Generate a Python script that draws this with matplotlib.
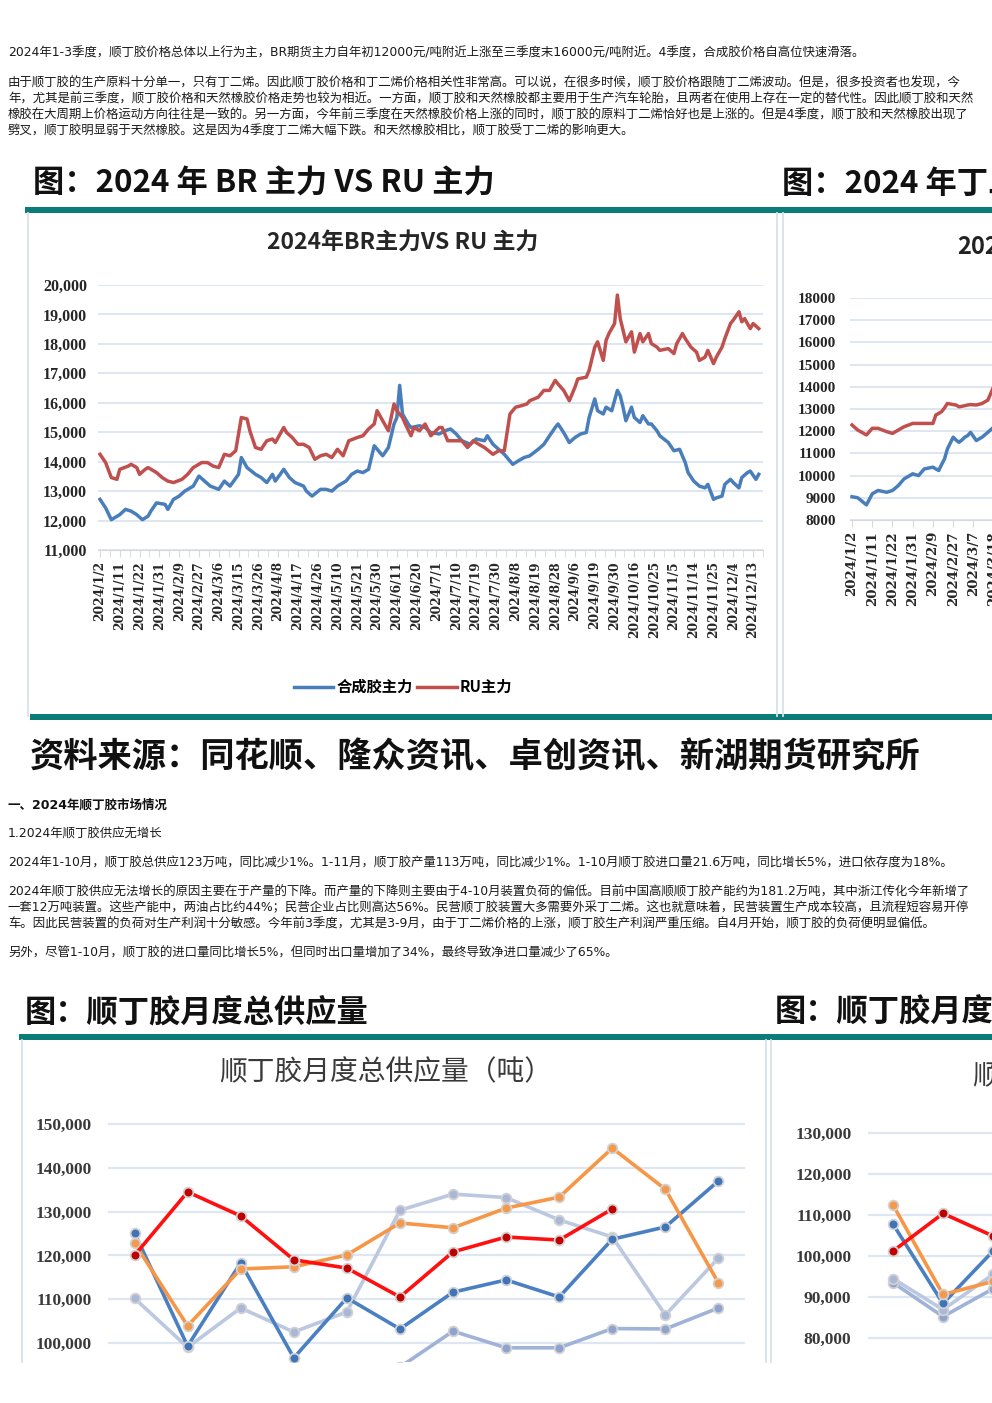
import matplotlib
matplotlib.use('Agg')
import matplotlib.pyplot as plt
from matplotlib.patches import Rectangle
from matplotlib.lines import Line2D

plt.rcParams['font.family'] = ['Noto Sans CJK SC', 'DejaVu Sans']

# ------------------------------------------------------------
# text of the page
intro_line = ("2024年1-3季度，顺丁胶价格总体以上行为主，BR期货主力自年初12000元/吨附近上涨至三季度末"
              "16000元/吨附近。4季度，合成胶价格自高位快速滑落。")
intro_para = [
    "由于顺丁胶的生产原料十分单一，只有丁二烯。因此顺丁胶价格和丁二烯价格相关性非常高。可以说，在很多时候，顺丁胶价格跟随丁二烯波动。但是，很多投资者也发现，今",
    "年，尤其是前三季度，顺丁胶价格和天然橡胶价格走势也较为相近。一方面，顺丁胶和天然橡胶都主要用于生产汽车轮胎，且两者在使用上存在一定的替代性。因此顺丁胶和天然",
    "橡胶在大周期上价格运动方向往往是一致的。另一方面，今年前三季度在天然橡胶价格上涨的同时，顺丁胶的原料丁二烯恰好也是上涨的。但是4季度，顺丁胶和天然橡胶出现了",
    "劈叉，顺丁胶明显弱于天然橡胶。这是因为4季度丁二烯大幅下跌。和天然橡胶相比，顺丁胶受丁二烯的影响更大。",
]
section_title = "一、2024年顺丁胶市场情况"
sub_title = "1.2024年顺丁胶供应无增长"
supply_line = ("2024年1-10月，顺丁胶总供应123万吨，同比减少1%。1-11月，顺丁胶产量113万吨，同比减少1%。"
               "1-10月顺丁胶进口量21.6万吨，同比增长5%，进口依存度为18%。")
supply_para = [
    "2024年顺丁胶供应无法增长的原因主要在于产量的下降。而产量的下降则主要由于4-10月装置负荷的偏低。目前中国高顺顺丁胶产能约为181.2万吨，其中浙江传化今年新增了",
    "一套12万吨装置。这些产能中，两油占比约44%；民营企业占比则高达56%。民营顺丁胶装置大多需要外采丁二烯。这也就意味着，民营装置生产成本较高，且流程短容易开停",
    "车。因此民营装置的负荷对生产利润十分敏感。今年前3季度，尤其是3-9月，由于丁二烯价格的上涨，顺丁胶生产利润严重压缩。自4月开始，顺丁胶的负荷便明显偏低。",
]
trade_line = "另外，尽管1-10月，顺丁胶的进口量同比增长5%，但同时出口量增加了34%，最终导致净进口量减少了65%。"
source_line = "资料来源：同花顺、隆众资讯、卓创资讯、新湖期货研究所"

# ------------------------------------------------------------
# chart 1: BR vs RU main contract (trading-day index, yuan/t)
date_labels = ['2024/1/2', '2024/1/11', '2024/1/22', '2024/1/31', '2024/2/9', '2024/2/27',
               '2024/3/6', '2024/3/15', '2024/3/26', '2024/4/8', '2024/4/17', '2024/4/26',
               '2024/5/10', '2024/5/21', '2024/5/30', '2024/6/11', '2024/6/20', '2024/7/1',
               '2024/7/10', '2024/7/19', '2024/7/30', '2024/8/8', '2024/8/19', '2024/8/28',
               '2024/9/6', '2024/9/19', '2024/9/30', '2024/10/16', '2024/10/25', '2024/11/5',
               '2024/11/14', '2024/11/25', '2024/12/4', '2024/12/13']
br_day = [0, 2, 4, 7, 9, 11, 13, 15, 17, 18, 20, 23, 24, 26, 28, 30, 33, 35, 37, 39,
          42, 44, 46, 49, 50, 52, 55, 57, 59, 61, 62, 65, 67, 69, 72, 73, 75, 78, 80, 82,
          84, 87, 89, 91, 93, 95, 97, 100, 102, 104, 105, 106, 107, 109, 110, 113, 115, 117, 120, 122,
          124, 126, 128, 131, 133, 136, 137, 139, 141, 143, 146, 148, 150, 152, 155, 157, 159, 161, 162, 164,
          166, 168, 170, 172, 173, 175, 176, 178, 179, 181, 183, 184, 185, 186, 188, 189, 191, 192, 194, 195,
          197, 198, 201, 203, 205, 207, 208, 210, 212, 214, 215, 217, 218, 220, 221, 223, 224, 226, 227, 229,
          230, 232, 233]
br_price = [12720, 12430, 12030, 12200, 12380, 12320, 12200, 12030, 12150, 12320,
            12600, 12550, 12380, 12720, 12830, 13000, 13170, 13510, 13340, 13170,
            13060, 13340, 13170, 13570, 14140, 13800, 13570, 13460, 13290, 13570,
            13340, 13740, 13460, 13290, 13170, 13000, 12830, 13060, 13060, 13000,
            13170, 13340, 13570, 13680, 13630, 13740, 14540, 14200, 14480, 15280,
            15500, 16590, 15620, 15280, 15160, 15220, 15160, 14990, 14940, 15050,
            15110, 14940, 14710, 14590, 14770, 14710, 14880, 14590, 14420, 14250,
            13910, 14030, 14140, 14200, 14420, 14590, 14880, 15160, 15280, 14990,
            14650, 14820, 14940, 14990, 15500, 16130, 15730, 15620, 15850, 15730,
            16420, 16240, 15850, 15390, 15850, 15500, 15330, 15560, 15280, 15280,
            15050, 14880, 14650, 14370, 14420, 13970, 13630, 13340, 13170, 13110,
            13230, 12720, 12770, 12830, 13230, 13400, 13290, 13110, 13460, 13630,
            13680, 13400, 13570]
ru_day = [0, 2, 4, 6, 7, 10, 11, 13, 14, 16, 17, 20, 22, 24, 26, 29, 31, 33, 36, 38,
          40, 42, 44, 46, 48, 50, 52, 53, 55, 57, 59, 61, 62, 65, 66, 68, 70, 72, 74, 76,
          78, 80, 82, 84, 86, 88, 91, 93, 95, 97, 98, 100, 102, 104, 105, 107, 108, 110, 111, 113,
          115, 117, 120, 121, 123, 126, 128, 130, 132, 134, 136, 139, 141, 143, 145, 147, 149, 151, 152, 155,
          157, 159, 161, 162, 164, 166, 168, 169, 172, 173, 175, 176, 178, 179, 180, 182, 183, 184, 185, 186,
          188, 189, 191, 192, 194, 195, 197, 198, 201, 203, 204, 206, 207, 209, 211, 212, 214, 215, 217, 218,
          220, 221, 223, 224, 226, 227, 228, 230, 231, 233]
ru_price = [14250, 13970, 13460, 13400, 13740, 13850, 13910, 13800, 13570, 13740,
            13800, 13630, 13460, 13340, 13290, 13400, 13570, 13800, 13970, 13970,
            13850, 13800, 14250, 14200, 14370, 15500, 15450, 15050, 14480, 14420,
            14710, 14770, 14650, 15160, 14990, 14820, 14590, 14590, 14480, 14080,
            14200, 14250, 14140, 14420, 14200, 14710, 14820, 14880, 15110, 15280,
            15730, 15390, 15050, 15960, 15730, 15500, 15280, 14880, 15160, 15050,
            15280, 14880, 15160, 15160, 14710, 14710, 14710, 14480, 14710, 14590,
            14480, 14250, 14370, 14370, 15620, 15850, 15900, 15960, 16070, 16190,
            16420, 16420, 16760, 16640, 16420, 16070, 16530, 16810, 16870, 17100,
            17890, 18070, 17440, 18120, 18350, 18690, 19660, 18860, 18460, 18070,
            18410, 17720, 18350, 18070, 18350, 18010, 17890, 17780, 17840, 17670,
            18010, 18350, 18180, 17890, 17720, 17440, 17550, 17780, 17330, 17550,
            17890, 18180, 18690, 18810, 19090, 18750, 18860, 18520, 18690, 18520]

# chart 1b (cut off at the right edge)
side_labels = ['2024/1/2', '2024/1/11', '2024/1/22', '2024/1/31', '2024/2/9',
               '2024/2/27', '2024/3/7', '2024/3/18']
side_day = [0, 2, 5, 7, 9, 12, 14, 16, 18, 21, 23, 25, 28, 29, 30, 31, 32, 33, 35,
            36, 37, 38, 39, 40, 41, 43, 45, 47, 49]
side_red = [12280, 12050, 11830, 12130, 12130, 11980, 11900, 12050, 12200, 12350,
            12350, 12350, 12350, 12730, 12800, 12880, 13050, 13250, 13200, 13180,
            13100, 13120, 13150, 13180, 13200, 13180, 13250, 13400, 14000]
side_blue = [9050, 9000, 8680, 9180, 9330, 9250, 9330, 9550, 9850, 10080,
             10000, 10300, 10380, 10300, 10230, 10500, 10750, 11200, 11730, 11600,
             11500, 11600, 11730, 11800, 11950, 11580, 11730, 11950, 12180]

# ------------------------------------------------------------
# chart 2: monthly total supply of BR (t), one line per year
months = list(range(12))
supply_steel = [92000, 88000, 91000, 89000, 90000, 94500, 102700, 98900, 98900, 103300, 103200, 108000]
supply_lav = [110200, 99000, 108000, 102500, 107100, 130300, 134000, 133200, 128100, 124200, 106400, 119400]
supply_blue = [125100, 99300, 118300, 96600, 110300, 103200, 111600, 114400, 110500, 123700, 126500, 137000]
supply_orange = [122800, 103900, 116900, 117400, 120100, 127400, 126300, 130800, 133300, 144500, 135100, 113700]
supply_2024 = [120000, 134500, 129000, 119000, 117100, 110500, 120800, 124200, 123500, 130600]

# chart 2b (cut off at the right edge)
side2_steel = [93500, 85200, 92000]
side2_lav = [94500, 86900, 95500]
side2_blue = [107800, 88400, 101200]
side2_orange = [112500, 90600, 93800]
side2_2024 = [101200, 110400, 104900]

# ------------------------------------------------------------
W, H = 992, 1403
fig = plt.figure(figsize=(W / 100, H / 100), dpi=100)


def fx(x):
    return x / W


def fy(y):
    return 1 - y / H


def add_ax(x0, y0, x1, y1):
    return fig.add_axes([fx(x0), fy(y1), (x1 - x0) / W, (y1 - y0) / H])


def text(x, y, s, **kw):
    kw.setdefault('va', 'center')
    kw.setdefault('ha', 'left')
    fig.text(fx(x), fy(y), s, **kw)


def hbar(x0, x1, y0, y1, color='#0b7c78'):
    fig.patches.append(Rectangle((fx(x0), fy(y1)), (x1 - x0) / W, (y1 - y0) / H,
                                 transform=fig.transFigure, color=color, lw=0))


def vline(x, y0, y1, color='#d8e1ec', lw=1.3):
    fig.lines.append(Line2D([fx(x), fx(x)], [fy(y0), fy(y1)], transform=fig.transFigure,
                            color=color, lw=lw))


# latin glyphs from DejaVu (wider digits), CJK from Noto
body = dict(fontsize=8.95, color='#1a1a1a', family=['DejaVu Sans', 'Noto Sans CJK SC'])
text(8, 53, intro_line, **body)
for i, line in enumerate(intro_para):
    text(8, 83 + 16 * i, line, **body)

# headers for the first pair of charts
head = dict(fontsize=22.5, fontweight='bold', color='#111111')
text(33, 184, "图：2024 年 BR 主力 VS RU 主力", **head)
text(782, 184, "图：2024 年丁二烯", **head)
hbar(25, 992, 207, 213)
hbar(30, 992, 714, 720)
vline(28, 213, 716)
vline(777, 213, 716)
vline(783, 213, 716)

# --- chart 1
ax = add_ax(98, 285, 763, 550)
ax.plot(br_day, br_price, color='#4a7ebb', lw=2.5, solid_joinstyle='round', label='合成胶主力')
ax.plot(ru_day, ru_price, color='#c0504d', lw=2.5, solid_joinstyle='round', label='RU主力')
ax.set_xlim(-0.7, 233.5)
ax.set_ylim(11000, 20000)
yt = list(range(11000, 20001, 1000))
ax.set_yticks(yt, labels=[f"{v:,}" for v in yt], fontfamily='Liberation Serif',
              fontweight='bold', fontsize=11.5, color='#262626')
xt = [7 * i for i in range(len(date_labels))]
ax.set_xticks(xt, labels=date_labels, rotation=90, fontfamily='DejaVu Serif',
              fontweight='bold', fontsize=8.8, color='#262626')
ax.set_xticks([7 * i + 3.5 for i in range(len(date_labels))], minor=True)
ax.tick_params(axis='y', length=0, pad=8)
ax.tick_params(axis='x', which='both', length=5, color='#d9d9d9', pad=3)
ax.grid(axis='y', color='#dde6f1', lw=1.4)
ax.set_axisbelow(True)
for s in ['top', 'right', 'left']:
    ax.spines[s].set_visible(False)
ax.spines['bottom'].set_color('#d9d9d9')
fig.text(fx(403), fy(242), "2024年BR主力VS RU 主力", ha='center', va='center',
         fontsize=16.5, fontweight='bold', color='#262626')
fig.legend(loc='center', bbox_to_anchor=(fx(403), fy(687)), ncol=2, frameon=False,
           handlelength=2.6, handletextpad=0.2, columnspacing=0.3,
           prop={'family': ['Noto Sans CJK SC'], 'weight': 'bold', 'size': 11})

# --- chart 1b, cut by the page edge
ax = add_ax(850, 298, 1300, 520)
ax.plot(side_day, side_red, color='#c0504d', lw=2.5, solid_joinstyle='round')
ax.plot(side_day, side_blue, color='#4a7ebb', lw=2.5, solid_joinstyle='round')
ax.set_xlim(-0.7, 155)
ax.set_ylim(8000, 18000)
yt = list(range(8000, 18001, 1000))
ax.set_yticks(yt, labels=[str(v) for v in yt], fontfamily='Liberation Serif',
              fontweight='bold', fontsize=11, color='#262626')
ax.set_xticks([7 * i for i in range(len(side_labels))], labels=side_labels, rotation=90,
              fontfamily='DejaVu Serif', fontweight='bold', fontsize=9.6, color='#262626')
ax.tick_params(axis='y', length=0, pad=10)
ax.tick_params(axis='x', length=5, color='#d9d9d9', pad=3)
ax.grid(axis='y', color='#dde6f1', lw=1.4)
ax.set_axisbelow(True)
for s in ['top', 'right', 'left']:
    ax.spines[s].set_visible(False)
ax.spines['bottom'].set_color('#d9d9d9')
text(957, 247, "2024年", fontsize=17, fontweight='bold', color='#222222')

# source and second block of text
text(30, 757, source_line, fontsize=24.7, fontweight='bold', color='#111111')
text(8, 805, section_title, fontsize=9, fontweight='bold', color='#111111',
     family=['DejaVu Sans', 'Noto Sans CJK SC'])
text(8, 834, sub_title, **body)
text(8, 863, supply_line, **body)
for i, line in enumerate(supply_para):
    text(8, 892 + 16 * i, line, **body)
text(8, 953, trade_line, **body)

# headers for the second pair of charts
text(25, 1013, "图：顺丁胶月度总供应量", **head)
text(775, 1013, "图：顺丁胶月度", **head)
hbar(19, 992, 1034, 1040)
vline(22, 1040, 1362)
vline(766, 1040, 1362)
vline(771, 1040, 1362)

mk = dict(marker='o', ms=7, mew=1.3, mec='#d2d2d2', lw=2.6, solid_joinstyle='round')


def supply_lines(ax, x, steel, lav, blue, orange, red):
    ax.plot(x[:len(steel)], steel, color='#9fb2d8', mfc='#8ea3cf', **mk)
    ax.plot(x[:len(lav)], lav, color='#bcc7e0', mfc='#a9b7d9', **mk)
    ax.plot(x[:len(blue)], blue, color='#4a7fc1', mfc='#3f74b8', **mk)
    ax.plot(x[:len(orange)], orange, color='#f79646', mfc='#f59a4c', **mk)
    ax.plot(x[:len(red)], red, color='#ff1010', mfc='#c00000', **mk)
    ax.grid(axis='y', color='#dde6f1', lw=1.6)
    ax.set_axisbelow(True)
    ax.set_xticks([])
    ax.tick_params(axis='y', length=0, pad=12)
    for s in ax.spines.values():
        s.set_visible(False)


# --- chart 2
ax = add_ax(108, 1100, 745, 1362)
supply_lines(ax, months, supply_steel, supply_lav, supply_blue, supply_orange, supply_2024)
ax.set_xlim(-0.5, 11.5)
ax.set_ylim(95660, 155480)
yt = list(range(100000, 150001, 10000))
ax.set_yticks(yt, labels=[f"{v:,}" for v in yt], fontfamily='Liberation Serif',
              fontweight='bold', fontsize=12.5, color='#3a3a3a')
text(386, 1072, "顺丁胶月度总供应量（吨）", ha='center', fontsize=20, color='#3a3a3a')

# --- chart 2b, cut by the page edge
ax = add_ax(868, 1100, 1468, 1356)
supply_lines(ax, months, side2_steel, side2_lav, side2_blue, side2_orange, side2_2024)
ax.set_xlim(-0.5, 11.5)
ax.set_ylim(75570, 138130)
yt = list(range(80000, 130001, 10000))
ax.set_yticks(yt, labels=[f"{v:,}" for v in yt], fontfamily='Liberation Serif',
              fontweight='bold', fontsize=12.5, color='#3a3a3a')
text(972, 1075, "顺丁", fontsize=20, color='#3a3a3a')

fig.savefig('out.png', dpi=100)
